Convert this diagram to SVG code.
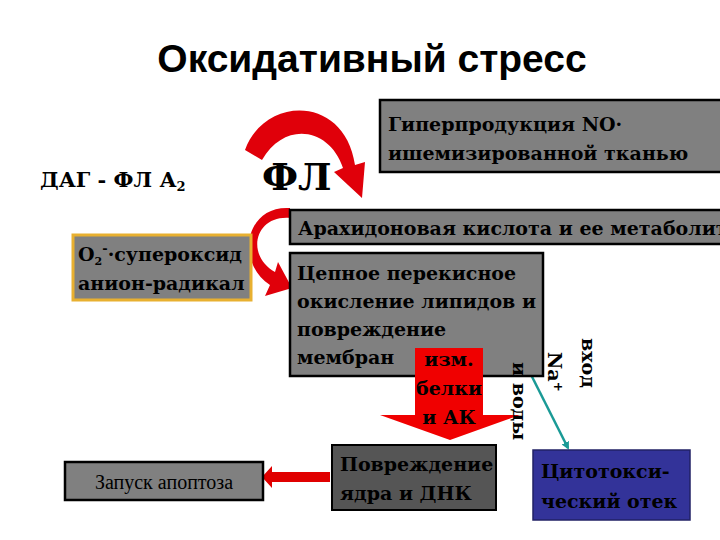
<svg xmlns="http://www.w3.org/2000/svg" width="720" height="540" viewBox="0 0 720 540">
<style>
text{font-family:"Liberation Serif","DejaVu Serif",serif}
.t{font-family:"DejaVu Serif",serif;font-weight:bold;font-size:19px;fill:#000}
.box{fill:#808080;stroke:#000;stroke-width:2.5}
</style>
<defs>
<marker id="ta" markerWidth="8" markerHeight="8" refX="6" refY="4" orient="auto" markerUnits="userSpaceOnUse"><path d="M0,0 L8,4 L0,8 z" fill="#1a9a96"/></marker>
</defs>
<rect width="720" height="540" fill="#fff"/>
<text x="372" y="72" text-anchor="middle" style="font-family:'Liberation Sans',sans-serif;font-weight:bold;font-size:39px">Оксидативный стресс</text>
<g id="dag"><text x="40" y="187" class="t" style="font-size:21px">ДАГ - ФЛ А<tspan font-size="13" dy="4">2</tspan></text></g>
<g id="fl"><text x="262" y="190" class="t" style="font-size:38px">ФЛ</text></g>
<g id="connectors">
<path d="M245,150 C265,95 345,95 355,165 L365,162 L362,198 L334,172 L343,168 C330,128 285,120 262,160 Z" fill="#e0000a"/>
<path d="M290,218 C255,215 245,255 275,272 L278,262 L292,288 L265,296 L270,285 C235,262 245,205 290,208 Z" fill="#e0000a"/>
<path d="M330,472 L272,472 L272,466 L262,477 L272,488 L272,482 L330,482 Z" fill="#e00000"/>
<line x1="516" y1="345" x2="568" y2="448" stroke="#1a9a96" stroke-width="2.5" marker-end="url(#ta)"/>
</g>
<g id="no"><rect class="box" x="380" y="100" width="345" height="72"/>
<text class="t" x="388" y="131">Гиперпродукция NO·</text><text class="t" x="388" y="160">ишемизированной тканью</text></g>
<g id="ak"><rect class="box" x="290" y="210" width="440" height="34"/>
<text class="t" x="298" y="235">Арахидоновая кислота и ее метаболиты</text></g>
<g id="chain"><rect class="box" x="290" y="253" width="253" height="123"/>
<text class="t" x="297" y="280">Цепное перекисное</text><text class="t" x="297" y="308">окисление липидов и</text><text class="t" x="297" y="336">повреждение</text><text class="t" x="297" y="364">мембран</text></g>
<g id="downarrow"><path d="M415,348 L483,348 L483,415 L520,415 L450,440 L380,415 L415,415 Z" fill="#f00000"/>
<text class="t" text-anchor="middle" x="449" y="366">изм.</text><text class="t" text-anchor="middle" x="449" y="395">белки</text><text class="t" text-anchor="middle" x="449" y="424">и АК</text></g>
<g id="o2"><rect x="73" y="235" width="178" height="65" fill="#808080" stroke="#e8b030" stroke-width="3"/>
<text class="t" x="78" y="261">O<tspan font-size="11" dy="4">2</tspan><tspan dy="-12" font-size="13">-</tspan><tspan dy="8">·супероксид</tspan></text><text class="t" x="78" y="290">анион-радикал</text></g>
<g id="vhod"><text class="t" transform="translate(582,338) rotate(90)">вход</text>
<text class="t" transform="translate(548,352) rotate(90)">Na<tspan font-size="12" dy="-6">+</tspan></text>
<text class="t" transform="translate(513,362) rotate(90)">и воды</text></g>
<g id="dna"><rect x="332" y="445" width="164" height="65" fill="#555" stroke="#000" stroke-width="2"/>
<text class="t" x="340" y="471">Повреждение</text><text class="t" x="340" y="500">ядра и ДНК</text></g>
<g id="apop"><rect class="box" x="65" y="462" width="198" height="38"/>
<text x="164" y="489" text-anchor="middle" style="font-size:20px">Запуск апоптоза</text></g>
<g id="otek"><rect x="533" y="450" width="157" height="70" fill="#333399" stroke="#222266" stroke-width="1.5"/>
<text class="t" x="541" y="478">Цитотокси-</text><text class="t" x="541" y="508">ческий отек</text></g>
</svg>
